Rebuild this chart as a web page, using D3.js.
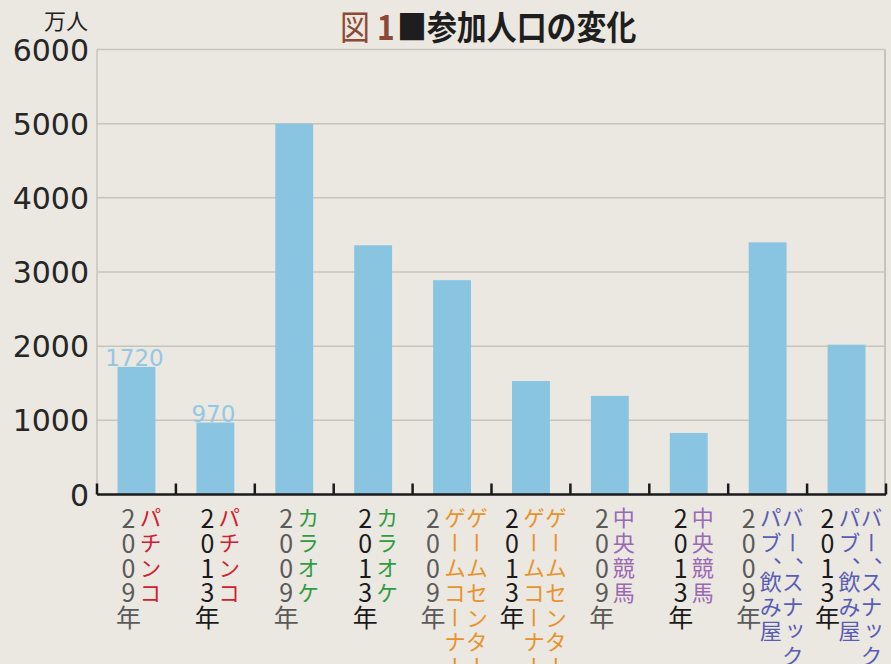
<!DOCTYPE html>
<html>
<head>
<meta charset="utf-8">
<script src="https://cdn.jsdelivr.net/npm/d3@7"></script>
<style>
  html, body { margin: 0; padding: 0; background: #ebe8e1; }
  svg { display: block; }
  .vcol { writing-mode: vertical-rl; text-orientation: upright; font-feature-settings: "vhal"; }
</style>
</head>
<body>
<script>
// chart data
var categories = ["パチンコ", "パチンコ", "カラオケ", "カラオケ",
  "ゲームセンター、ゲームコーナー", "ゲームセンター、ゲームコーナー",
  "中央競馬", "中央競馬", "バー、スナック、パブ、飲み屋", "バー、スナック、パブ、飲み屋"];
var years = ["2009年", "2013年", "2009年", "2013年", "2009年", "2013年", "2009年", "2013年", "2009年", "2013年"];
var values = [1720, 970, 5000, 3360, 2890, 1530, 1330, 830, 3400, 2020];
var valueLabels = ["1720", "970", "", "", "", "", "", "", "", ""];
var yTicks = [0, 1000, 2000, 3000, 4000, 5000, 6000];
// label columns (vertical text, first column on the right)
var nameColumns = {
  "パチンコ": ["パチンコ"],
  "カラオケ": ["カラオケ"],
  "ゲームセンター、ゲームコーナー": ["ゲームセンター", "ゲームコーナー"],
  "中央競馬": ["中央競馬"],
  "バー、スナック、パブ、飲み屋": ["バー、スナック、", "パブ、飲み屋"]
};

var nameColor = {
  "パチンコ": "#d1202f",
  "カラオケ": "#2e9c3f",
  "ゲームセンター、ゲームコーナー": "#e8922c",
  "中央競馬": "#9a69b6",
  "バー、スナック、パブ、飲み屋": "#5a5db4"
};
var yearColor = { "2009年": "#5a5a5a", "2013年": "#1a1a1a" };

var svgWidth = 891;
var svgHeight = 664;

var plot = { left: 97, right: 886, top: 49.5, bottom: 494.5 };

var svg = d3.select("body")
  .append("svg")
  .attr("width", svgWidth)
  .attr("height", svgHeight);

svg.append("rect")
  .attr("width", svgWidth)
  .attr("height", svgHeight)
  .attr("fill", "#ebe8e1");

var idx = d3.range(values.length);

var xBand = d3.scaleBand()
  .domain(idx)
  .range([plot.left, plot.right])
  .padding(0);

var yScale = d3.scaleLinear()
  .domain([0, 6000])
  .range([plot.bottom, plot.top]);

// grid lines
svg.selectAll(".grid")
  .data(yTicks.filter(d => d > 0))
  .enter()
  .append("line")
  .attr("class", "grid")
  .attr("x1", plot.left)
  .attr("x2", plot.right - 1)
  .attr("y1", d => yScale(d))
  .attr("y2", d => yScale(d))
  .attr("stroke", "#c8c4bb")
  .attr("stroke-width", 1.5);

// left and right frame
svg.append("line")
  .attr("x1", plot.left).attr("x2", plot.left)
  .attr("y1", plot.top).attr("y2", plot.bottom)
  .attr("stroke", "#c8c4bb").attr("stroke-width", 1.5);
svg.append("line")
  .attr("x1", plot.right - 1).attr("x2", plot.right - 1)
  .attr("y1", plot.top).attr("y2", plot.bottom)
  .attr("stroke", "#c8c4bb").attr("stroke-width", 2);

// y tick labels
svg.selectAll(".ylabel")
  .data(yTicks)
  .enter()
  .append("text")
  .attr("class", "ylabel")
  .attr("x", 89)
  .attr("y", d => yScale(d) + 11)
  .attr("text-anchor", "end")
  .attr("font-family", "DejaVu Sans")
  .attr("font-size", 30)
  .attr("fill", "#262626")
  .text(d => d);

svg.append("text")
  .attr("x", 88)
  .attr("y", 29)
  .attr("text-anchor", "end")
  .attr("font-family", "Noto Sans CJK JP")
  .attr("font-size", 22)
  .attr("fill", "#222")
  .text("万人");

// title (slightly condensed)
var titleParts = [
  { x: 340, text: "図", color: "#8c4a36", weight: "normal" },
  { x: 377, text: "1", color: "#8c4a36", weight: "bold" },
  { x: 397, text: "■参加人口の変化", color: "#1e1e1e", weight: "bold" }
];
svg.selectAll(".title")
  .data(titleParts)
  .enter()
  .append("text")
  .attr("class", "title")
  .attr("transform", d => `translate(${d.x},40) scale(0.88,1)`)
  .attr("font-family", "Noto Sans CJK JP")
  .attr("font-size", 34)
  .attr("font-weight", d => d.weight)
  .attr("fill", d => d.color)
  .text(d => d.text);

// bars
var barW = xBand.bandwidth() * 0.48;
svg.selectAll(".bar")
  .data(idx)
  .enter()
  .append("rect")
  .attr("class", "bar")
  .attr("x", i => xBand(i) + (xBand.bandwidth() - barW) / 2)
  .attr("y", i => yScale(values[i]))
  .attr("width", barW)
  .attr("height", i => yScale(0) - yScale(values[i]))
  .attr("fill", "#89c4e1");

// value labels
svg.selectAll(".vlabel")
  .data(idx.filter(i => valueLabels[i] !== ""))
  .enter()
  .append("text")
  .attr("class", "vlabel")
  .attr("x", i => xBand(i) + xBand.bandwidth() / 2 - 2)
  .attr("y", i => yScale(values[i]) - 1)
  .attr("text-anchor", "middle")
  .attr("font-family", "DejaVu Sans")
  .attr("font-size", 23)
  .attr("fill", "#93c7e4")
  .text(i => valueLabels[i]);

// bottom axis with upward ticks at band edges
svg.append("line")
  .attr("x1", plot.left).attr("x2", plot.right)
  .attr("y1", plot.bottom).attr("y2", plot.bottom)
  .attr("stroke", "#1a1a1a").attr("stroke-width", 2.5);

var tickPos = idx.map(i => xBand(i)).concat([plot.right]);
svg.selectAll(".xtick")
  .data(tickPos)
  .enter()
  .append("line")
  .attr("class", "xtick")
  .attr("x1", d => d).attr("x2", d => d)
  .attr("y1", plot.bottom).attr("y2", plot.bottom - 11)
  .attr("stroke", "#1a1a1a").attr("stroke-width", 2.5);

// x labels: vertical columns (year, then name columns)
var colStep = 22;
idx.forEach(function (i) {
  var cols = nameColumns[categories[i]];
  // left to right: year column, then name columns in reverse (vertical-rl reading order)
  var leftToRight = [{ text: years[i], color: yearColor[years[i]], year: true }]
    .concat(cols.slice().reverse().map(c => ({ text: c, color: nameColor[categories[i]], year: false })));
  var n = leftToRight.length;
  var cx = xBand(i) + xBand.bandwidth() / 2 + 3;
  leftToRight.forEach(function (c, k) {
    svg.append("text")
      .attr("class", "vcol")
      .attr("x", cx + (k - (n - 1) / 2) * colStep)
      .attr("y", c.year ? 506 : 507)
      .attr("font-family", "Noto Sans CJK JP")
      .attr("font-size", c.year ? 25 : 22)
      .attr("letter-spacing", c.year ? -0.2 : 2.8)
      .attr("fill", c.color)
      .text(c.text);
  });
});
</script>
</body>
</html>
